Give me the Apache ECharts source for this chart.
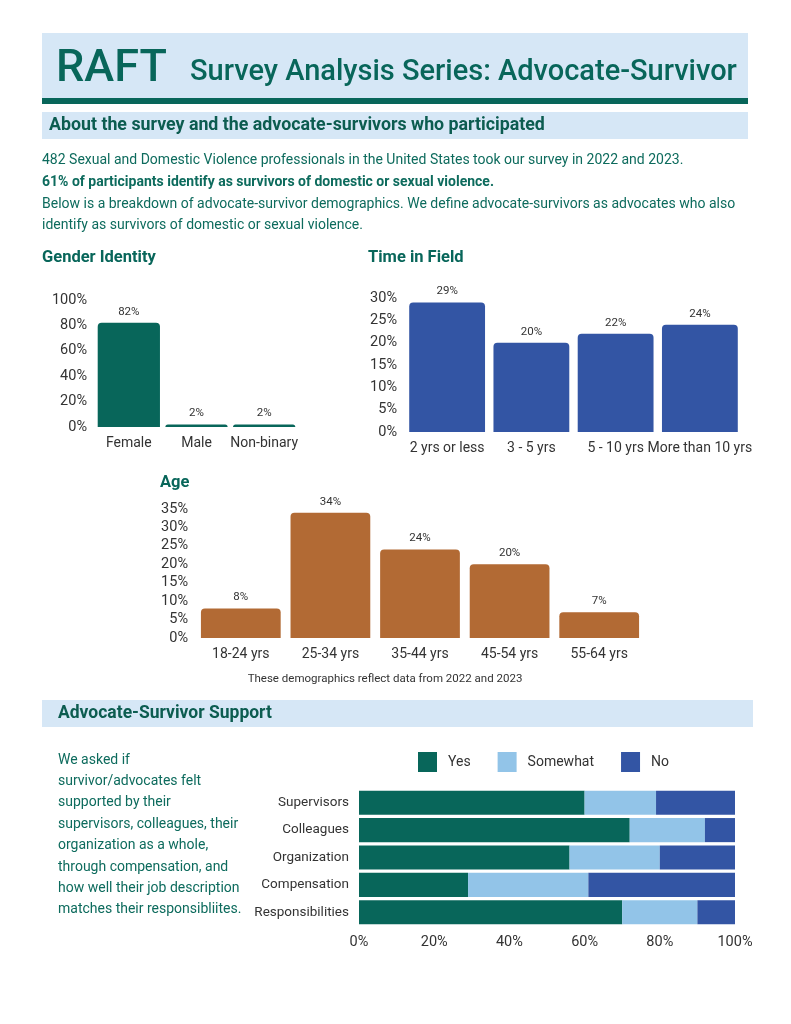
<!DOCTYPE html>
<html>
<head>
<meta charset="utf-8">
<script src="https://cdn.jsdelivr.net/npm/echarts@6/dist/echarts.min.js"></script>
<style>
html,body{margin:0;padding:0;background:#fff;}
#c{width:791px;height:1024px;}
</style>
</head>
<body>
<div id="c"></div>
<script>
// ---- data ----
const genderCats = ['Female', 'Male', 'Non-binary'];
const genderVals = [82, 2, 2];
const genderTicks = [0, 20, 40, 60, 80, 100];

const fieldCats = ['2 yrs or less', '3 - 5 yrs', '5 - 10 yrs', 'More than 10 yrs'];
const fieldVals = [29, 20, 22, 24];
const fieldTicks = [0, 5, 10, 15, 20, 25, 30];

const ageCats = ['18-24 yrs', '25-34 yrs', '35-44 yrs', '45-54 yrs', '55-64 yrs'];
const ageVals = [8, 34, 24, 20, 7];
const ageTicks = [0, 5, 10, 15, 20, 25, 30, 35];

const supportCats = ['Supervisors', 'Colleagues', 'Organization', 'Compensation', 'Responsibilities'];
const supportYes = [60, 72, 56, 29, 70];
const supportSomewhat = [19, 20, 24, 32, 20];
const supportNo = [21, 8, 20, 39, 10];
const supportTicks = [0, 20, 40, 60, 80, 100];

// ---- styles ----
const GREEN = '#08665a';
const BLUE = '#3355a4';
const ORANGE = '#b26a34';
const LIGHTBLUE = '#92c4e8';
const PANEL = '#d6e7f6';
const TEXTTEAL = '#0d6b5d';
const AXISTXT = '#333333';
const FONT = 'Roboto, "Noto Sans", sans-serif';

const chart = echarts.init(document.getElementById('c'), null, {renderer: 'canvas'});

function valAxis(gi, ticks) {
  return {
    type: 'value', gridIndex: gi, min: ticks[0], max: ticks[ticks.length - 1],
    interval: ticks[1] - ticks[0],
    axisLine: {show: false}, axisTick: {show: false}, splitLine: {show: false},
    axisLabel: {formatter: '{value}%', color: AXISTXT, fontFamily: FONT, fontSize: 14.5, margin: 8}
  };
}
function catAxis(gi, cats) {
  return {
    type: 'category', gridIndex: gi, data: cats,
    axisLine: {show: false}, axisTick: {show: false},
    axisLabel: {color: AXISTXT, fontFamily: FONT, fontSize: 14, margin: 9, interval: 0}
  };
}
function barSeries(gi, vals, color, gap) {
  return {
    type: 'bar', xAxisIndex: gi, yAxisIndex: gi, data: vals,
    barCategoryGap: gap,
    itemStyle: {color: color, borderRadius: [4, 4, 0, 0]},
    label: {show: true, position: 'top', formatter: '{c}%', color: AXISTXT, fontFamily: FONT, fontSize: 11.5, distance: 5}
  };
}

const paraLines = [
  {t: '482 Sexual and Domestic Violence professionals in the United States took our survey in 2022 and 2023.', y: 160, w: 'normal'},
  {t: '61% of participants identify as survivors of domestic or sexual violence.', y: 182, w: 'bold'},
  {t: 'Below is a breakdown of advocate-survivor demographics. We define advocate-survivors as advocates who also', y: 204, w: 'normal'},
  {t: 'identify as survivors of domestic or sexual violence.', y: 225, w: 'normal'}
];
const leftLines = ['We asked if', 'survivor/advocates felt', 'supported by their',
  'supervisors, colleagues, their', 'organization as a whole,', 'through compensation, and',
  'how well their job description', 'matches their responsibliites.'];

const graphics = [
  {type: 'rect', shape: {x: 42, y: 33, width: 706, height: 66}, style: {fill: PANEL}},
  {type: 'rect', shape: {x: 42, y: 98, width: 706, height: 6}, style: {fill: GREEN}},
  {type: 'text', x: 56, y: 70, style: {text: 'RAFT', font: '500 45px ' + FONT, fill: GREEN, verticalAlign: 'middle'}},
  {type: 'text', x: 190, y: 73, style: {text: 'Survey Analysis Series: Advocate-Survivor', font: '500 29px ' + FONT, fill: GREEN, verticalAlign: 'middle'}},
  {type: 'rect', shape: {x: 42, y: 112, width: 706, height: 27}, style: {fill: PANEL}},
  {type: 'text', x: 49, y: 126, style: {text: 'About the survey and the advocate-survivors who participated', font: 'bold 17.8px ' + FONT, fill: '#0c5c50', verticalAlign: 'middle'}},
  {type: 'text', x: 42, y: 258, style: {text: 'Gender Identity', font: 'bold 16.5px ' + FONT, fill: GREEN, verticalAlign: 'middle'}},
  {type: 'text', x: 368, y: 258, style: {text: 'Time in Field', font: 'bold 16.5px ' + FONT, fill: GREEN, verticalAlign: 'middle'}},
  {type: 'text', x: 160, y: 483, style: {text: 'Age', font: 'bold 16.5px ' + FONT, fill: GREEN, verticalAlign: 'middle'}},
  {type: 'text', x: 385, y: 679, style: {text: 'These demographics reflect data from 2022 and 2023', font: '11.5px ' + FONT, fill: AXISTXT, align: 'center', verticalAlign: 'middle'}},
  {type: 'rect', shape: {x: 42, y: 700, width: 711, height: 27}, style: {fill: PANEL}},
  {type: 'text', x: 58, y: 714, style: {text: 'Advocate-Survivor Support', font: 'bold 17.5px ' + FONT, fill: '#0c5c50', verticalAlign: 'middle'}}
];
paraLines.forEach(function (l) {
  graphics.push({type: 'text', x: 42, y: l.y, style: {text: l.t, font: l.w + ' 14px ' + FONT, fill: TEXTTEAL, verticalAlign: 'middle'}});
});
leftLines.forEach(function (t, i) {
  graphics.push({type: 'text', x: 58, y: 760 + i * 21.4, style: {text: t, font: '14px ' + FONT, fill: TEXTTEAL, verticalAlign: 'middle'}});
});

const option = {
  backgroundColor: '#ffffff',
  animation: false,
  textStyle: {fontFamily: FONT},
  graphic: graphics,
  grid: [
    {left: 95, right: 791 - 298, top: 300, bottom: 1024 - 427, containLabel: false},
    {left: 405, right: 791 - 742, top: 298, bottom: 1024 - 432, containLabel: false},
    {left: 196, right: 791 - 644, top: 509, bottom: 1024 - 638, containLabel: false},
    {left: 359, right: 791 - 735, top: 789, bottom: 1024 - 926, containLabel: false}
  ],
  legend: {
    left: 418, top: 752, padding: 0, itemWidth: 19, itemHeight: 20, itemGap: 27,
    icon: 'rect',
    textStyle: {color: AXISTXT, fontFamily: FONT, fontSize: 14, padding: [0, 0, 0, 6]},
    data: ['Yes', 'Somewhat', 'No']
  },
  xAxis: [
    catAxis(0, genderCats),
    catAxis(1, fieldCats),
    catAxis(2, ageCats),
    {
      type: 'value', gridIndex: 3, min: 0, max: 100, interval: 20,
      axisLine: {show: false}, axisTick: {show: false}, splitLine: {show: false},
      axisLabel: {formatter: '{value}%', color: AXISTXT, fontFamily: FONT, fontSize: 14.5, margin: 9}
    }
  ],
  yAxis: [
    valAxis(0, genderTicks),
    valAxis(1, fieldTicks),
    valAxis(2, ageTicks),
    {
      type: 'category', gridIndex: 3, data: supportCats, inverse: true,
      axisLine: {show: false}, axisTick: {show: false},
      axisLabel: {color: AXISTXT, fontFamily: FONT, fontSize: 13.5, margin: 10}
    }
  ],
  series: [
    barSeries(0, genderVals, GREEN, '8%'),
    barSeries(1, fieldVals, BLUE, '10%'),
    barSeries(2, ageVals, ORANGE, '11%'),
    {name: 'Yes', type: 'bar', stack: 's', xAxisIndex: 3, yAxisIndex: 3, data: supportYes, barCategoryGap: '12%', itemStyle: {color: GREEN}},
    {name: 'Somewhat', type: 'bar', stack: 's', xAxisIndex: 3, yAxisIndex: 3, data: supportSomewhat, barCategoryGap: '12%', itemStyle: {color: LIGHTBLUE}},
    {name: 'No', type: 'bar', stack: 's', xAxisIndex: 3, yAxisIndex: 3, data: supportNo, barCategoryGap: '12%', itemStyle: {color: BLUE}}
  ]
};
chart.setOption(option);
</script>
</body>
</html>
